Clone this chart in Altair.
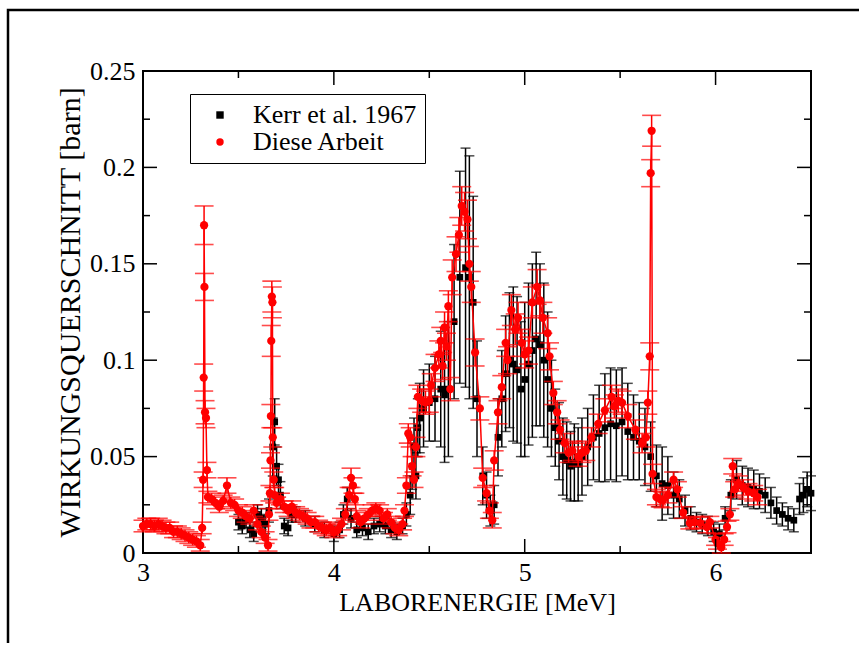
import altair as alt
import pandas as pd

# ---------------- data ----------------
red_e = [3.00, 3.02, 3.04, 3.06, 3.08, 3.10, 3.12, 3.14, 3.16, 3.18, 3.20, 3.22, 3.24, 3.26, 3.28, 3.30,
         3.31, 3.315, 3.318, 3.32, 3.322, 3.325, 3.33, 3.335, 3.34, 3.36, 3.38, 3.40, 3.42, 3.44, 3.46, 3.48,
         3.50, 3.52, 3.54, 3.56, 3.58, 3.60, 3.62, 3.64, 3.655, 3.66, 3.665, 3.668, 3.67, 3.672, 3.675, 3.678,
         3.68, 3.685, 3.69, 3.70, 3.72, 3.74, 3.76, 3.78, 3.80, 3.82, 3.84, 3.86, 3.88, 3.90, 3.92, 3.94,
         3.96, 3.98, 4.00, 4.02, 4.04, 4.06, 4.08, 4.09, 4.10, 4.11, 4.12, 4.14, 4.16, 4.18, 4.20, 4.22,
         4.24, 4.26, 4.28, 4.30, 4.32, 4.34, 4.36, 4.37, 4.38, 4.39, 4.40, 4.41, 4.42, 4.43, 4.44, 4.46,
         4.48, 4.50, 4.51, 4.53, 4.55, 4.56, 4.57, 4.58, 4.59, 4.60, 4.61, 4.62, 4.64, 4.655, 4.67, 4.685,
         4.70, 4.71, 4.72, 4.74, 4.765, 4.78, 4.80, 4.815, 4.83, 4.84, 4.86, 4.88, 4.90, 4.91, 4.93, 4.95,
         4.965, 4.985, 5.00, 5.02, 5.04, 5.065, 5.08, 5.095, 5.12, 5.13, 5.15, 5.17, 5.185, 5.21, 5.23, 5.25,
         5.28, 5.30, 5.32, 5.35, 5.385, 5.42, 5.455, 5.47, 5.49, 5.51, 5.54, 5.58, 5.615, 5.635, 5.645, 5.655,
         5.66, 5.665, 5.67, 5.69, 5.71, 5.725, 5.75, 5.78, 5.80, 5.83, 5.865, 5.89, 5.92, 5.955, 5.97, 6.00,
         6.01, 6.03, 6.045, 6.06, 6.075, 6.09, 6.10, 6.12, 6.145, 6.17, 6.20, 6.22]
red_s = [0.014, 0.015, 0.015, 0.014, 0.015, 0.014, 0.013, 0.013, 0.011, 0.011, 0.010, 0.009, 0.008, 0.007, 0.006, 0.004,
         0.013, 0.038, 0.091, 0.170, 0.138, 0.073, 0.070, 0.043, 0.029, 0.028, 0.026, 0.024, 0.027, 0.035, 0.026, 0.025,
         0.022, 0.021, 0.019, 0.018, 0.022, 0.015, 0.011, 0.008, 0.004, 0.020, 0.031, 0.048, 0.071, 0.110, 0.133, 0.130,
         0.060, 0.038, 0.030, 0.026, 0.028, 0.024, 0.022, 0.024, 0.021, 0.020, 0.019, 0.018, 0.016, 0.016, 0.014, 0.013,
         0.012, 0.013, 0.011, 0.012, 0.015, 0.020, 0.030, 0.039, 0.035, 0.028, 0.019, 0.016, 0.018, 0.020, 0.022, 0.023,
         0.022, 0.018, 0.020, 0.016, 0.013, 0.012, 0.015, 0.022, 0.035, 0.062, 0.060, 0.045, 0.038, 0.055, 0.081, 0.079,
         0.078, 0.079, 0.087, 0.096, 0.103, 0.110, 0.097, 0.117, 0.107, 0.128, 0.085, 0.143, 0.155, 0.165, 0.180, 0.177,
         0.173, 0.150, 0.138, 0.104, 0.075, 0.039, 0.031, 0.022, 0.017, 0.048, 0.073, 0.086, 0.109, 0.100, 0.126, 0.116,
         0.122, 0.109, 0.103, 0.105, 0.130, 0.138, 0.131, 0.122, 0.114, 0.102, 0.083, 0.073, 0.064, 0.057, 0.052, 0.053,
         0.050, 0.052, 0.053, 0.060, 0.067, 0.074, 0.081, 0.076, 0.079, 0.078, 0.071, 0.064, 0.057, 0.060, 0.078, 0.102,
         0.197, 0.219, 0.041, 0.029, 0.028, 0.0275, 0.030, 0.038, 0.033, 0.021, 0.0155, 0.016, 0.0155, 0.0135, 0.016, 0.007,
         0.005, 0.003, 0.007, 0.0135, 0.020, 0.045, 0.033, 0.036, 0.034, 0.032, 0.031, 0.029]
red_err = [0.003] * 16 + \
          [0.003, 0.004, 0.007, 0.010, 0.007, 0.006, 0.005, 0.004, 0.003, 0.003, 0.003, 0.003, 0.003, 0.004, 0.003, 0.003,
           0.003, 0.003, 0.003, 0.003, 0.003, 0.003, 0.003, 0.003, 0.003, 0.003, 0.004, 0.004, 0.006, 0.008, 0.008, 0.008,
           0.005, 0.004, 0.004, 0.003, 0.003, 0.003, 0.003, 0.003, 0.003, 0.003, 0.003, 0.003, 0.003, 0.003, 0.003, 0.003,
           0.003, 0.003, 0.003, 0.003, 0.003, 0.003, 0.004, 0.005, 0.004, 0.003, 0.003, 0.003, 0.003, 0.003, 0.003, 0.003,
           0.003, 0.003, 0.003, 0.003, 0.003, 0.003, 0.003, 0.003, 0.004, 0.005, 0.005, 0.005, 0.004, 0.005, 0.006, 0.006,
           0.006, 0.006, 0.006, 0.007, 0.007, 0.007, 0.007, 0.008, 0.007, 0.008, 0.006, 0.009, 0.009, 0.009, 0.010, 0.010,
           0.010, 0.009, 0.008, 0.007, 0.006, 0.005, 0.004, 0.004, 0.004, 0.005, 0.006, 0.006, 0.007, 0.007, 0.008, 0.008,
           0.008, 0.007, 0.007, 0.007, 0.008, 0.009, 0.008, 0.008, 0.008, 0.007, 0.006, 0.006, 0.005, 0.005, 0.005, 0.005,
           0.005, 0.005, 0.005, 0.005, 0.005, 0.006, 0.006, 0.006, 0.006, 0.006, 0.006, 0.005, 0.005, 0.005, 0.006, 0.007,
           0.007, 0.008, 0.005, 0.004, 0.004, 0.004, 0.004, 0.004, 0.004, 0.003, 0.003, 0.003, 0.003, 0.003, 0.003, 0.003,
           0.003, 0.003, 0.003, 0.003, 0.003, 0.004, 0.004, 0.004, 0.004, 0.004, 0.004, 0.004]

kerr_e = [3.50, 3.52, 3.54, 3.56, 3.58, 3.60, 3.62, 3.64, 3.66, 3.68, 3.69, 3.70, 3.71, 3.72, 3.74, 3.76,
          3.78, 3.80, 3.85, 3.90, 3.95, 4.00, 4.03, 4.05, 4.07, 4.09, 4.12, 4.15, 4.18, 4.21, 4.24, 4.27,
          4.30, 4.33, 4.36, 4.38, 4.40, 4.41, 4.42, 4.43, 4.44, 4.45, 4.47, 4.50, 4.53, 4.56, 4.58, 4.60,
          4.63, 4.66, 4.69, 4.71, 4.73, 4.75, 4.78, 4.80, 4.82, 4.84, 4.86, 4.88, 4.90, 4.92, 4.94, 4.96,
          4.98, 5.00, 5.02, 5.04, 5.06, 5.08, 5.10, 5.12, 5.14, 5.16, 5.18, 5.20, 5.22, 5.24, 5.26, 5.28,
          5.30, 5.33, 5.36, 5.39, 5.42, 5.45, 5.48, 5.51, 5.54, 5.57, 5.60, 5.63, 5.66, 5.69, 5.72, 5.75,
          5.78, 5.81, 5.84, 5.87, 5.90, 5.93, 5.96, 5.99, 6.02, 6.05, 6.08, 6.11, 6.14, 6.17, 6.20, 6.23,
          6.26, 6.29, 6.32, 6.35, 6.38, 6.41, 6.44, 6.46, 6.48, 6.50]
kerr_s = [0.016, 0.014, 0.017, 0.012, 0.010, 0.020, 0.018, 0.015, 0.022, 0.055, 0.068, 0.045, 0.038, 0.030, 0.014, 0.013,
          0.020, 0.020, 0.018, 0.015, 0.012, 0.010, 0.012, 0.020, 0.028, 0.018, 0.012, 0.013, 0.011, 0.014, 0.015, 0.014,
          0.012, 0.011, 0.014, 0.020, 0.030, 0.045, 0.055, 0.040, 0.065, 0.070, 0.075, 0.078, 0.080, 0.085, 0.082, 0.085,
          0.120, 0.143, 0.148, 0.143, 0.130, 0.080, 0.040, 0.030, 0.022, 0.025, 0.060, 0.080, 0.093, 0.100, 0.098, 0.095,
          0.085, 0.090, 0.098, 0.105, 0.111, 0.108, 0.100, 0.090, 0.075, 0.065, 0.058, 0.050, 0.048, 0.045, 0.047, 0.046,
          0.050, 0.055, 0.060, 0.062, 0.065, 0.067, 0.066, 0.068, 0.063, 0.060, 0.058, 0.055, 0.050, 0.040, 0.036, 0.035,
          0.030, 0.028, 0.022, 0.018, 0.016, 0.015, 0.014, 0.011, 0.010, 0.018, 0.030, 0.038, 0.035, 0.034, 0.033, 0.032,
          0.030, 0.026, 0.022, 0.020, 0.018, 0.017, 0.028, 0.030, 0.033, 0.031]
kerr_err = [0.004, 0.004, 0.004, 0.004, 0.004, 0.005, 0.005, 0.005, 0.006, 0.015, 0.012, 0.010, 0.008, 0.007, 0.004, 0.004,
            0.004, 0.004, 0.004, 0.004, 0.004, 0.004, 0.004, 0.005, 0.006, 0.005, 0.004, 0.004, 0.004, 0.004, 0.004, 0.004,
            0.004, 0.004, 0.004, 0.006, 0.010, 0.012, 0.015, 0.012, 0.015, 0.018, 0.020, 0.020, 0.022, 0.030, 0.035, 0.035,
            0.040, 0.055, 0.062, 0.063, 0.055, 0.030, 0.015, 0.012, 0.008, 0.010, 0.020, 0.025, 0.030, 0.035, 0.040, 0.038,
            0.035, 0.040, 0.042, 0.045, 0.045, 0.042, 0.040, 0.035, 0.025, 0.020, 0.020, 0.020, 0.020, 0.018, 0.020, 0.019,
            0.020, 0.020, 0.022, 0.025, 0.028, 0.029, 0.029, 0.028, 0.025, 0.022, 0.020, 0.020, 0.018, 0.016, 0.019, 0.015,
            0.012, 0.010, 0.008, 0.006, 0.005, 0.005, 0.005, 0.005, 0.005, 0.006, 0.008, 0.010, 0.010, 0.010, 0.010, 0.009,
            0.009, 0.008, 0.007, 0.006, 0.006, 0.006, 0.008, 0.009, 0.009, 0.009]

series_names = ["Kerr et al. 1967", "Diese Arbeit"]
series_colors = ["black", "red"]
series_shapes = ["square", "circle"]

x_major = [3, 4, 5, 6]
x_minor = [3.5, 4.5, 5.5, 6.5]
y_major = [0, 0.05, 0.1, 0.15, 0.2, 0.25]
y_minor = [0.025, 0.075, 0.125, 0.175, 0.225]

# ---------------- frames ----------------
W, H = 668, 482
FONT = "Liberation Serif"

red = pd.DataFrame({"E": red_e, "s": red_s, "err": red_err})
red["lo"] = red["s"] - red["err"]
red["hi"] = red["s"] + red["err"]
red["i"] = range(len(red))
red["series"] = series_names[1]

kerr = pd.DataFrame({"E": kerr_e, "s": kerr_s, "err": kerr_err})
kerr["lo"] = kerr["s"] - kerr["err"]
kerr["hi"] = kerr["s"] + kerr["err"]
kerr["series"] = series_names[0]

xs = alt.Scale(domain=[3, 6.5], nice=False, zero=False)
ys = alt.Scale(domain=[0, 0.25], nice=False, zero=False)

xaxis = alt.Axis(values=x_major, format="d", title="LABORENERGIE [MeV]", ticks=False, domain=False,
                 grid=False, labelFont=FONT, labelFontSize=26, labelColor="black", labelPadding=6,
                 titleFont=FONT, titleFontSize=26, titleFontWeight="normal", titleColor="black",
                 titlePadding=4, labelFlush=False)
yaxis = alt.Axis(values=y_major, format="~g", title="WIRKUNGSQUERSCHNITT [barn]", ticks=False, domain=False,
                 grid=False, labelFont=FONT, labelFontSize=26, labelColor="black", labelPadding=8,
                 titleFont=FONT, titleFontSize=30, titleFontWeight="normal", titleColor="black",
                 titlePadding=4, labelFlush=False)


def X(f):
    return alt.X(f, type="quantitative", scale=xs, axis=xaxis)


def Y(f):
    return alt.Y(f, type="quantitative", scale=ys, axis=yaxis)


color = alt.Color("series:N", scale=alt.Scale(domain=series_names, range=series_colors),
                  legend=alt.Legend(title=None))
shape = alt.Shape("series:N", scale=alt.Scale(domain=series_names, range=series_shapes),
                  legend=alt.Legend(title=None))

# Kerr et al. 1967
kerr_bar = alt.Chart(kerr).mark_rule(color="black", strokeWidth=1.5).encode(x=X("E"), y=Y("lo"), y2="hi")
kerr_cap_hi = alt.Chart(kerr).mark_tick(color="black", orient="horizontal", size=10, thickness=1.5).encode(
    x=X("E"), y=Y("hi"))
kerr_cap_lo = alt.Chart(kerr).mark_tick(color="black", orient="horizontal", size=10, thickness=1.5).encode(
    x=X("E"), y=Y("lo"))
kerr_pts = alt.Chart(kerr).mark_point(filled=True, size=45, opacity=1).encode(
    x=X("E"), y=Y("s"), color=color, shape=shape)

# Diese Arbeit
red_line = alt.Chart(red).mark_line(color="red", strokeWidth=1.5).encode(x=X("E"), y=Y("s"), order="i:Q")
red_bar = alt.Chart(red).mark_rule(color="red", strokeWidth=1.5).encode(x=X("E"), y=Y("lo"), y2="hi")
red_cap_hi = alt.Chart(red).mark_tick(color="red", orient="horizontal", size=19, thickness=1.6).encode(
    x=X("E"), y=Y("hi"))
red_cap_lo = alt.Chart(red).mark_tick(color="red", orient="horizontal", size=19, thickness=1.6).encode(
    x=X("E"), y=Y("lo"))
red_pts = alt.Chart(red).mark_point(filled=True, size=68, opacity=1).encode(
    x=X("E"), y=Y("s"), color=color, shape=shape)

# inward axis ticks on all four sides
MAJ, MIN = 14, 7


def xticks(vals, L):
    d = pd.DataFrame({"v": vals})
    b = alt.Chart(d).mark_rule(color="black", strokeWidth=1.5).encode(
        x=X("v"), y=alt.value(H), y2=alt.value(H - L))
    t = alt.Chart(d).mark_rule(color="black", strokeWidth=1.5).encode(
        x=X("v"), y=alt.value(0), y2=alt.value(L))
    return [b, t]


def yticks(vals, L):
    d = pd.DataFrame({"v": vals})
    l = alt.Chart(d).mark_rule(color="black", strokeWidth=1.5).encode(
        y=Y("v"), x=alt.value(0), x2=alt.value(L))
    r = alt.Chart(d).mark_rule(color="black", strokeWidth=1.5).encode(
        y=Y("v"), x=alt.value(W), x2=alt.value(W - L))
    return [l, r]


ticks = xticks(x_major, MAJ) + xticks(x_minor, MIN) + yticks(y_major, MAJ) + yticks(y_minor, MIN)

# outer picture frame
frame = alt.Chart(pd.DataFrame({"k": [0]})).mark_rect(
    fillOpacity=0, stroke="black", strokeWidth=2.5).encode(
    x=alt.value(-135), x2=alt.value(800), y=alt.value(-61), y2=alt.value(700))

chart = alt.layer(
    frame, kerr_bar, kerr_cap_hi, kerr_cap_lo, kerr_pts,
    red_line, red_bar, red_cap_hi, red_cap_lo, red_pts, *ticks
).properties(
    width=W, height=H,
    autosize=alt.AutoSizeParams(type="none"),
    padding={"left": 143, "top": 71, "right": 48, "bottom": 90},
    background="white",
).configure_view(
    stroke="black", strokeWidth=2
).configure_legend(
    orient="none", legendX=47, legendY=23, padding=8,
    fillColor="white", strokeColor="black",
    labelFont=FONT, labelFontSize=26, labelColor="black", labelLimit=0,
    symbolSize=55, symbolStrokeWidth=0, symbolOffset=9, labelOffset=20,
    rowPadding=1, cornerRadius=0,
)

chart.save("out.html", embed_options={"renderer": "svg", "actions": False})
